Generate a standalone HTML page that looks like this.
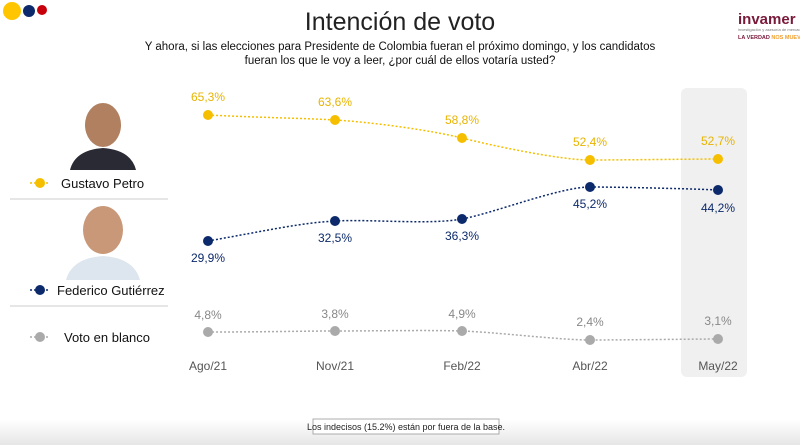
<!DOCTYPE html>
<html><head><meta charset="utf-8"><style>
body{margin:0;width:800px;height:445px;background:#fff;overflow:hidden;font-family:"Liberation Sans",sans-serif;position:relative}
.t{position:absolute;white-space:nowrap}
</style></head><body>
<svg width="800" height="445" style="position:absolute;left:0;top:0" font-family="Liberation Sans, sans-serif">
<defs><linearGradient id="g" x1="0" y1="0" x2="0" y2="1"><stop offset="0" stop-color="#fff"/><stop offset="1" stop-color="#e6e6e6"/></linearGradient></defs>
<rect x="0" y="420" width="800" height="25" fill="url(#g)"/>
<circle cx="12" cy="11" r="9" fill="#ffc600"/><circle cx="29" cy="11" r="6" fill="#0c2a6b"/><circle cx="42" cy="10" r="5" fill="#c8000b"/>
<text x="400" y="30" font-size="25" text-anchor="middle" fill="#222">Intención de voto</text>
<text x="400" y="50" font-size="11.5" text-anchor="middle" fill="#111">Y ahora, si las elecciones para Presidente de Colombia fueran el próximo domingo, y los candidatos</text>
<text x="400" y="64" font-size="11.5" text-anchor="middle" fill="#111">fueran los que le voy a leer, ¿por cuál de ellos votaría usted?</text>
<text x="738" y="24" font-size="15" font-weight="bold" fill="#7a1a3a">invamer</text>
<text x="738" y="31" font-size="4" fill="#777">investigación y asesoría de mercados</text>
<text x="738" y="39" font-size="5.5" font-weight="bold" fill="#7a1a3a">LA VERDAD <tspan fill="#f0a030">NOS MUEVE</tspan></text>
<rect x="681" y="88" width="66" height="289" rx="6" fill="#f0f0f0"/>
<!-- photos placeholders -->
<ellipse cx="103" cy="125" rx="18" ry="22" fill="#b08060"/><path d="M70 170 Q75 150 103 148 Q131 150 136 170Z" fill="#2a2a35"/>
<ellipse cx="103" cy="230" rx="20" ry="24" fill="#c89878"/><path d="M66 280 Q72 258 103 256 Q134 258 140 280Z" fill="#dde6ee"/>
<line x1="10" y1="199" x2="168" y2="199" stroke="#ccc"/><line x1="10" y1="306" x2="168" y2="306" stroke="#ccc"/>
<g stroke-dasharray="2 2" stroke-width="1.5" fill="none">
<line x1="30" y1="183" x2="50" y2="183" stroke="#f5bf00"/><line x1="30" y1="290" x2="50" y2="290" stroke="#0c2a6b"/><line x1="30" y1="337" x2="50" y2="337" stroke="#aaa"/>
<path d="M208 115 C270 118 300 118 335 120 S430 130 462 138 S560 160 590 160 S700 159 718 159" stroke="#f5bf00"/>
<path d="M208 241 C270 230 300 223 335 221 S430 225 462 219 S560 187 590 187 S700 189 718 190" stroke="#0c2a6b"/>
<path d="M208 332 C270 332 300 331 335 331 S430 330 462 331 S560 340 590 340 S700 339 718 339" stroke="#aaa"/>
</g>
<g fill="#f5bf00"><circle cx="40" cy="183" r="5"/><circle cx="208" cy="115" r="5"/><circle cx="335" cy="120" r="5"/><circle cx="462" cy="138" r="5"/><circle cx="590" cy="160" r="5"/><circle cx="718" cy="159" r="5"/></g>
<g fill="#0c2a6b"><circle cx="40" cy="290" r="5"/><circle cx="208" cy="241" r="5"/><circle cx="335" cy="221" r="5"/><circle cx="462" cy="219" r="5"/><circle cx="590" cy="187" r="5"/><circle cx="718" cy="190" r="5"/></g>
<g fill="#aaa"><circle cx="40" cy="337" r="5"/><circle cx="208" cy="332" r="5"/><circle cx="335" cy="331" r="5"/><circle cx="462" cy="331" r="5"/><circle cx="590" cy="340" r="5"/><circle cx="718" cy="339" r="5"/></g>
<g font-size="12" text-anchor="middle" fill="#e8b400">
<text x="208" y="101">65,3%</text><text x="335" y="106">63,6%</text><text x="462" y="124">58,8%</text><text x="590" y="146">52,4%</text><text x="718" y="145">52,7%</text></g>
<g font-size="12" text-anchor="middle" fill="#0c2a6b">
<text x="208" y="262">29,9%</text><text x="335" y="242">32,5%</text><text x="462" y="240">36,3%</text><text x="590" y="208">45,2%</text><text x="718" y="212">44,2%</text></g>
<g font-size="12" text-anchor="middle" fill="#888">
<text x="208" y="319">4,8%</text><text x="335" y="318">3,8%</text><text x="462" y="318">4,9%</text><text x="590" y="326">2,4%</text><text x="718" y="325">3,1%</text></g>
<g font-size="12" text-anchor="middle" fill="#555">
<text x="208" y="370">Ago/21</text><text x="335" y="370">Nov/21</text><text x="462" y="370">Feb/22</text><text x="590" y="370">Abr/22</text><text x="718" y="370">May/22</text></g>
<g font-size="13" fill="#111"><text x="61" y="188">Gustavo Petro</text><text x="57" y="295">Federico Gutiérrez</text><text x="64" y="342">Voto en blanco</text></g>
<rect x="313" y="419" width="186" height="15" fill="#fff" stroke="#999" stroke-width="0.8"/>
<text x="406" y="430" font-size="9" text-anchor="middle" fill="#222">Los indecisos (15.2%) están por fuera de la base.</text>
</svg>
</body></html>
